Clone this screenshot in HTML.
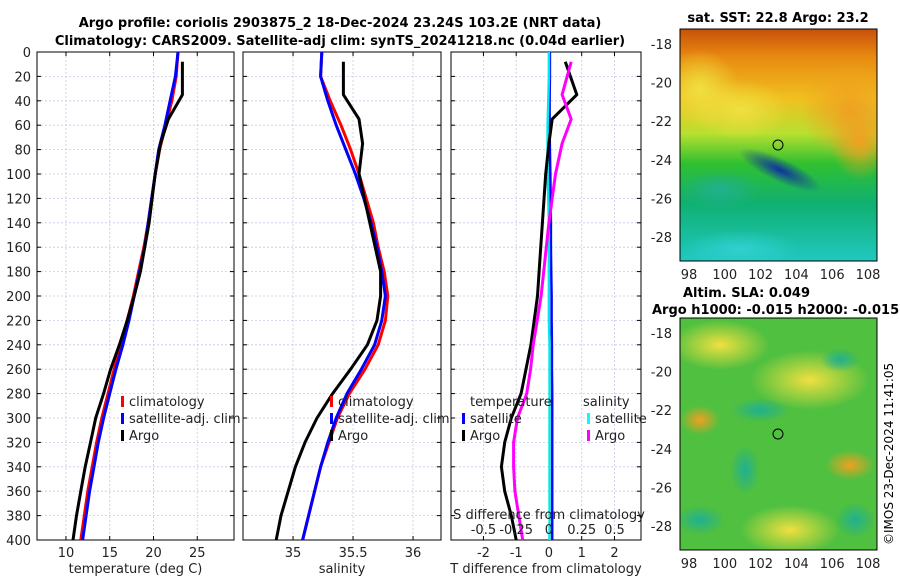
<!DOCTYPE html>
<html><head><meta charset="utf-8"><style>
body{margin:0;background:#fff;font-family:"Liberation Sans","DejaVu Sans",sans-serif}
svg text{font-family:"DejaVu Sans","Liberation Sans",sans-serif}
</style></head><body>
<svg id="fig" width="900" height="580" viewBox="0 0 900 580" xmlns="http://www.w3.org/2000/svg">
<defs>
<linearGradient id="sstg" x1="0" y1="0" x2="0" y2="1">
<stop offset="0" stop-color="#c8500a"/><stop offset="0.12" stop-color="#e88a10"/><stop offset="0.3" stop-color="#f0c020"/>
<stop offset="0.45" stop-color="#b8e030"/><stop offset="0.58" stop-color="#30c030"/><stop offset="0.75" stop-color="#10b070"/>
<stop offset="1" stop-color="#20c8c0"/></linearGradient>
<radialGradient id="blobY"><stop offset="0" stop-color="#f0e040"/><stop offset="1" stop-color="#f0e040" stop-opacity="0"/></radialGradient>
<radialGradient id="blobO"><stop offset="0" stop-color="#f0a020"/><stop offset="1" stop-color="#f0a020" stop-opacity="0"/></radialGradient>
<radialGradient id="blobT"><stop offset="0" stop-color="#20b090"/><stop offset="1" stop-color="#20b090" stop-opacity="0"/></radialGradient>
<radialGradient id="blobC"><stop offset="0" stop-color="#30d0d0"/><stop offset="1" stop-color="#30d0d0" stop-opacity="0"/></radialGradient>
<radialGradient id="blobB"><stop offset="0" stop-color="#1030a0"/><stop offset="1" stop-color="#1030a0" stop-opacity="0"/></radialGradient>
<clipPath id="c1"><rect x="680" y="29" width="197" height="232"/></clipPath>
<clipPath id="c2"><rect x="680" y="318" width="197" height="232"/></clipPath>
</defs>
<text x="340" y="27" font-size="13" font-weight="bold" text-anchor="middle">Argo profile: coriolis 2903875_2 18-Dec-2024 23.24S 103.2E (NRT data)</text>
<text x="340" y="45" font-size="13" font-weight="bold" text-anchor="middle">Climatology: CARS2009. Satellite-adj clim: synTS_20241218.nc (0.04d earlier)</text>
<g id="plots"></g>
<!-- SST map -->
<g clip-path="url(#c1)">
<rect x="680" y="29" width="197" height="232" fill="url(#sstg)"/>
<ellipse cx="700" cy="90" rx="40" ry="40" fill="url(#blobY)"/>
<ellipse cx="740" cy="110" rx="50" ry="30" fill="url(#blobY)"/>
<ellipse cx="850" cy="110" rx="50" ry="50" fill="url(#blobO)"/>
<ellipse cx="860" cy="140" rx="30" ry="40" fill="url(#blobO)"/>
<ellipse cx="780" cy="170" rx="45" ry="12" fill="url(#blobB)" transform="rotate(25 780 170)"/>
<ellipse cx="740" cy="250" rx="60" ry="20" fill="url(#blobC)"/>
<ellipse cx="720" cy="190" rx="40" ry="20" fill="url(#blobT)"/>
</g>
<rect x="680" y="29" width="197" height="232" fill="none" stroke="#000"/>
<circle cx="778" cy="145" r="5" fill="none" stroke="#000"/>
<text x="778" y="22" font-size="13" font-weight="bold" text-anchor="middle">sat. SST: 22.8 Argo: 23.2</text>
<!-- SLA map -->
<g clip-path="url(#c2)">
<rect x="680" y="318" width="197" height="232" fill="#50c040"/>
<ellipse cx="720" cy="345" rx="50" ry="25" fill="url(#blobY)"/>
<ellipse cx="810" cy="380" rx="60" ry="30" fill="url(#blobY)"/>
<ellipse cx="700" cy="420" rx="20" ry="15" fill="url(#blobO)"/>
<ellipse cx="850" cy="465" rx="25" ry="15" fill="url(#blobO)"/>
<ellipse cx="790" cy="530" rx="50" ry="25" fill="url(#blobY)"/>
<ellipse cx="760" cy="410" rx="30" ry="12" fill="url(#blobT)"/>
<ellipse cx="745" cy="470" rx="15" ry="25" fill="url(#blobT)"/>
<ellipse cx="855" cy="520" rx="20" ry="18" fill="url(#blobT)"/>
<ellipse cx="700" cy="520" rx="25" ry="15" fill="url(#blobT)"/>
<ellipse cx="840" cy="360" rx="20" ry="12" fill="url(#blobT)"/>
</g>
<rect x="680" y="318" width="197" height="232" fill="none" stroke="#000"/>
<circle cx="778" cy="434" r="5" fill="none" stroke="#000"/>
<text x="683" y="297" font-size="13" font-weight="bold">Altim. SLA: 0.049</text>
<text x="652" y="314" font-size="13" font-weight="bold">Argo h1000: -0.015 h2000: -0.015</text>
<text font-size="12" transform="translate(893,545) rotate(-90)">©IMOS 23-Dec-2024 11:41:05</text>
</svg>
<script>
const NS="http://www.w3.org/2000/svg";
const depthTicks=[0,20,40,60,80,100,120,140,160,180,200,220,240,260,280,300,320,340,360,380,400];
const tempTicks=[10,15,20,25];
const salTicks=[35,35.5,36];
const diffTicks=[-2,-1,0,1,2];
const sdiffTicks=[-0.5,-0.25,0,0.25,0.5];
const sdiffLabels=["-0.5","-0.25","0","0.25","0.5"];
const latTicks=[-18,-20,-22,-24,-26,-28];
const lonTicks=[98,100,102,104,106,108];
const climDepth=[0,20,40,60,80,100,120,140,160,180,200,220,240,260,280,300,320,340,360,380,400];
const tempClim=[22.8,22.6,22.1,21.4,20.7,20.2,19.8,19.4,18.9,18.3,17.7,17.0,16.3,15.5,14.8,14.1,13.5,13.0,12.5,12.1,11.7];
const tempSat=[22.8,22.5,21.9,21.3,20.6,20.2,19.8,19.4,19.0,18.4,17.8,17.2,16.5,15.7,15.0,14.3,13.7,13.2,12.7,12.3,11.9];
const salClim=[35.24,35.23,35.31,35.4,35.48,35.55,35.61,35.67,35.71,35.76,35.79,35.77,35.71,35.6,35.47,35.37,35.3,35.23,35.18,35.13,35.08];
const salSat=[35.24,35.23,35.29,35.36,35.44,35.52,35.59,35.65,35.7,35.74,35.77,35.74,35.68,35.57,35.45,35.36,35.29,35.23,35.18,35.13,35.08];
const argoDepth=[8,35,55,75,100,140,180,200,220,240,260,280,300,320,340,360,380,400];
const tempArgo=[23.3,23.3,21.7,20.8,20.2,19.5,18.5,17.8,17.0,16.1,15.1,14.3,13.4,12.8,12.2,11.7,11.2,10.8];
const salArgo=[35.42,35.42,35.55,35.58,35.55,35.64,35.73,35.73,35.7,35.62,35.48,35.33,35.2,35.1,35.02,34.96,34.9,34.86];
const tDiffArgo=[0.5,0.85,0.1,0.0,-0.1,-0.2,-0.3,-0.35,-0.45,-0.55,-0.7,-0.85,-1.15,-1.35,-1.45,-1.35,-1.15,-1.0];
const sDiffArgo=[0.17,0.1,0.17,0.1,0.05,0.0,-0.04,-0.06,-0.09,-0.12,-0.14,-0.17,-0.24,-0.27,-0.27,-0.26,-0.23,-0.2];
const tDiffSat=[0.03,0.03,0.02,0.02,0.03,0.04,0.05,0.06,0.06,0.07,0.08,0.08,0.09,0.09,0.1,0.1,0.1,0.1,0.1,0.1,0.1];
const sDiffSat=[0.0,0.0,-0.005,-0.01,-0.01,-0.01,-0.005,0,0,0,0,0,0.005,0.005,0.005,0.005,0.005,0.005,0.005,0.005,0.005];

const svg=document.getElementById('plots');
const Y0=52,Y1=540;
const yD=d=>Y0+(d/400)*(Y1-Y0);
function mk(tag,attrs,parent){const e=document.createElementNS(NS,tag);for(const k in attrs)e.setAttribute(k,attrs[k]);(parent||svg).appendChild(e);return e;}
function txt(x,y,s,opts,name){const t=mk('text',Object.assign({x:x,y:y,'font-size':13,fill:'#222'},opts||{}));t.textContent=s;

return t;}
function panel(name,x0,x1,xmin,xmax,xt,xlabels,xlabel,showY){
  const g=mk('g',{});
  
  
  const sx=v=>x0+(v-xmin)/(xmax-xmin)*(x1-x0);
  depthTicks.forEach(d=>{mk('line',{x1:x0,x2:x1,y1:yD(d),y2:yD(d),stroke:'#c8c8e8','stroke-dasharray':'2,2','stroke-width':0.8},g);
    mk('line',{x1:x0,x2:x0+4,y1:yD(d),y2:yD(d),stroke:'#000'},g);mk('line',{x1:x1-4,x2:x1,y1:yD(d),y2:yD(d),stroke:'#000'},g);
    if(showY)txt(x0-6,yD(d)+5,String(d),{'text-anchor':'end'},'y-tick-label');});
  xt.forEach((v,i)=>{mk('line',{x1:sx(v),x2:sx(v),y1:Y0,y2:Y1,stroke:'#c8c8e8','stroke-dasharray':'2,2','stroke-width':0.8},g);
    mk('line',{x1:sx(v),x2:sx(v),y1:Y1-4,y2:Y1,stroke:'#000'},g);mk('line',{x1:sx(v),x2:sx(v),y1:Y0,y2:Y0+4,stroke:'#000'},g);
    txt(sx(v),Y1+17,xlabels[i],{'text-anchor':'middle'},'x-tick-label');});
  txt((x0+x1)/2,Y1+33,xlabel,{'text-anchor':'middle'},'x-axis-title');
  mk('rect',{x:x0,y:Y0,width:x1-x0,height:Y1-Y0,fill:'none',stroke:'#000'},g);
  return {g,sx};
}
function line(p,xs,ds,color,name,w){
  const pts=xs.map((v,i)=>p.sx(v).toFixed(1)+','+yD(ds[i]).toFixed(1)).join(' ');
  const l=mk('polyline',{points:pts,fill:'none',stroke:color,'stroke-width':w||3,'stroke-linejoin':'round'},p.g);
  
  
}
function legend(x,y,items){items.forEach((it,i)=>{const yy=y+i*17;
  mk('rect',{x:x,y:yy-10,width:3,height:11,fill:it[1]});
  txt(x+8,yy,it[0],{},'legend-entry');});}

const p1=panel('temperature-panel',37,234,6.69,29.2,tempTicks,tempTicks.map(String),'temperature (deg C)',true);
line(p1,tempClim,climDepth,'#ff0000','temp-climatology-line');
line(p1,tempSat,climDepth,'#0000ff','temp-satellite-line');
line(p1,tempArgo,argoDepth,'#000','temp-argo-line');
legend(121,406,[['climatology','#f00'],['satellite-adj. clim','#00f'],['Argo','#000']]);

const p2=panel('salinity-panel',243,441,34.583,36.233,salTicks,['35','35.5','36'],'salinity',false);
line(p2,salClim,climDepth,'#ff0000','sal-climatology-line');
line(p2,salSat,climDepth,'#0000ff','sal-satellite-line');
line(p2,salArgo,argoDepth,'#000','sal-argo-line');
legend(330,406,[['climatology','#f00'],['satellite-adj. clim','#00f'],['Argo','#000']]);

const p3=panel('difference-panel',451,641,-2.99,2.81,diffTicks,diffTicks.map(String),'T difference from climatology',false);
mk('line',{x1:p3.sx(0),x2:p3.sx(0),y1:Y0,y2:Y1,stroke:'#444','stroke-dasharray':'1,2'},p3.g);
line(p3,tDiffSat,climDepth,'#0000ff','tdiff-satellite-line',2.5);
line(p3,sDiffSat.map(v=>v*4),climDepth,'#00e8e8','sdiff-satellite-line',2.5);
line(p3,tDiffArgo,argoDepth,'#000','tdiff-argo-line');
line(p3,sDiffArgo.map(v=>v*4),argoDepth,'#ff00ff','sdiff-argo-line');
txt(470,406,'temperature',{},'legend-title-temperature');
legend(462,423,[['satellite','#00f'],['Argo','#000']]);
txt(583,406,'salinity',{},'legend-title-salinity');
legend(587,423,[['satellite','#0ff'],['Argo','#f0f']]);
txt(549,519,'S difference from climatology',{'text-anchor':'middle'},'s-axis-title');
sdiffTicks.forEach((v,i)=>txt(p3.sx(v*4),534,sdiffLabels[i],{'text-anchor':'middle'},'s-tick-label'));

// map axes
function mapAxes(y0,name){
  const g=mk('g',{});
  
  
  const ly=v=>y0+15+(-18-v)*19.3, lx=v=>689+(v-98)*17.9;
  latTicks.forEach(v=>{mk('line',{x1:873,x2:877,y1:ly(v),y2:ly(v),stroke:'#000'},g);txt(672,ly(v)+5,String(v),{'text-anchor':'end'},'lat-tick-label');});
  lonTicks.forEach(v=>{mk('line',{x1:lx(v),x2:lx(v),y1:y0+228,y2:y0+232,stroke:'#000'},g);txt(lx(v),y0+250,String(v),{'text-anchor':'middle'},'lon-tick-label');});
}
mapAxes(29,'sst-map-axes');
mapAxes(318,'sla-map-axes');
</script>
</body></html>
